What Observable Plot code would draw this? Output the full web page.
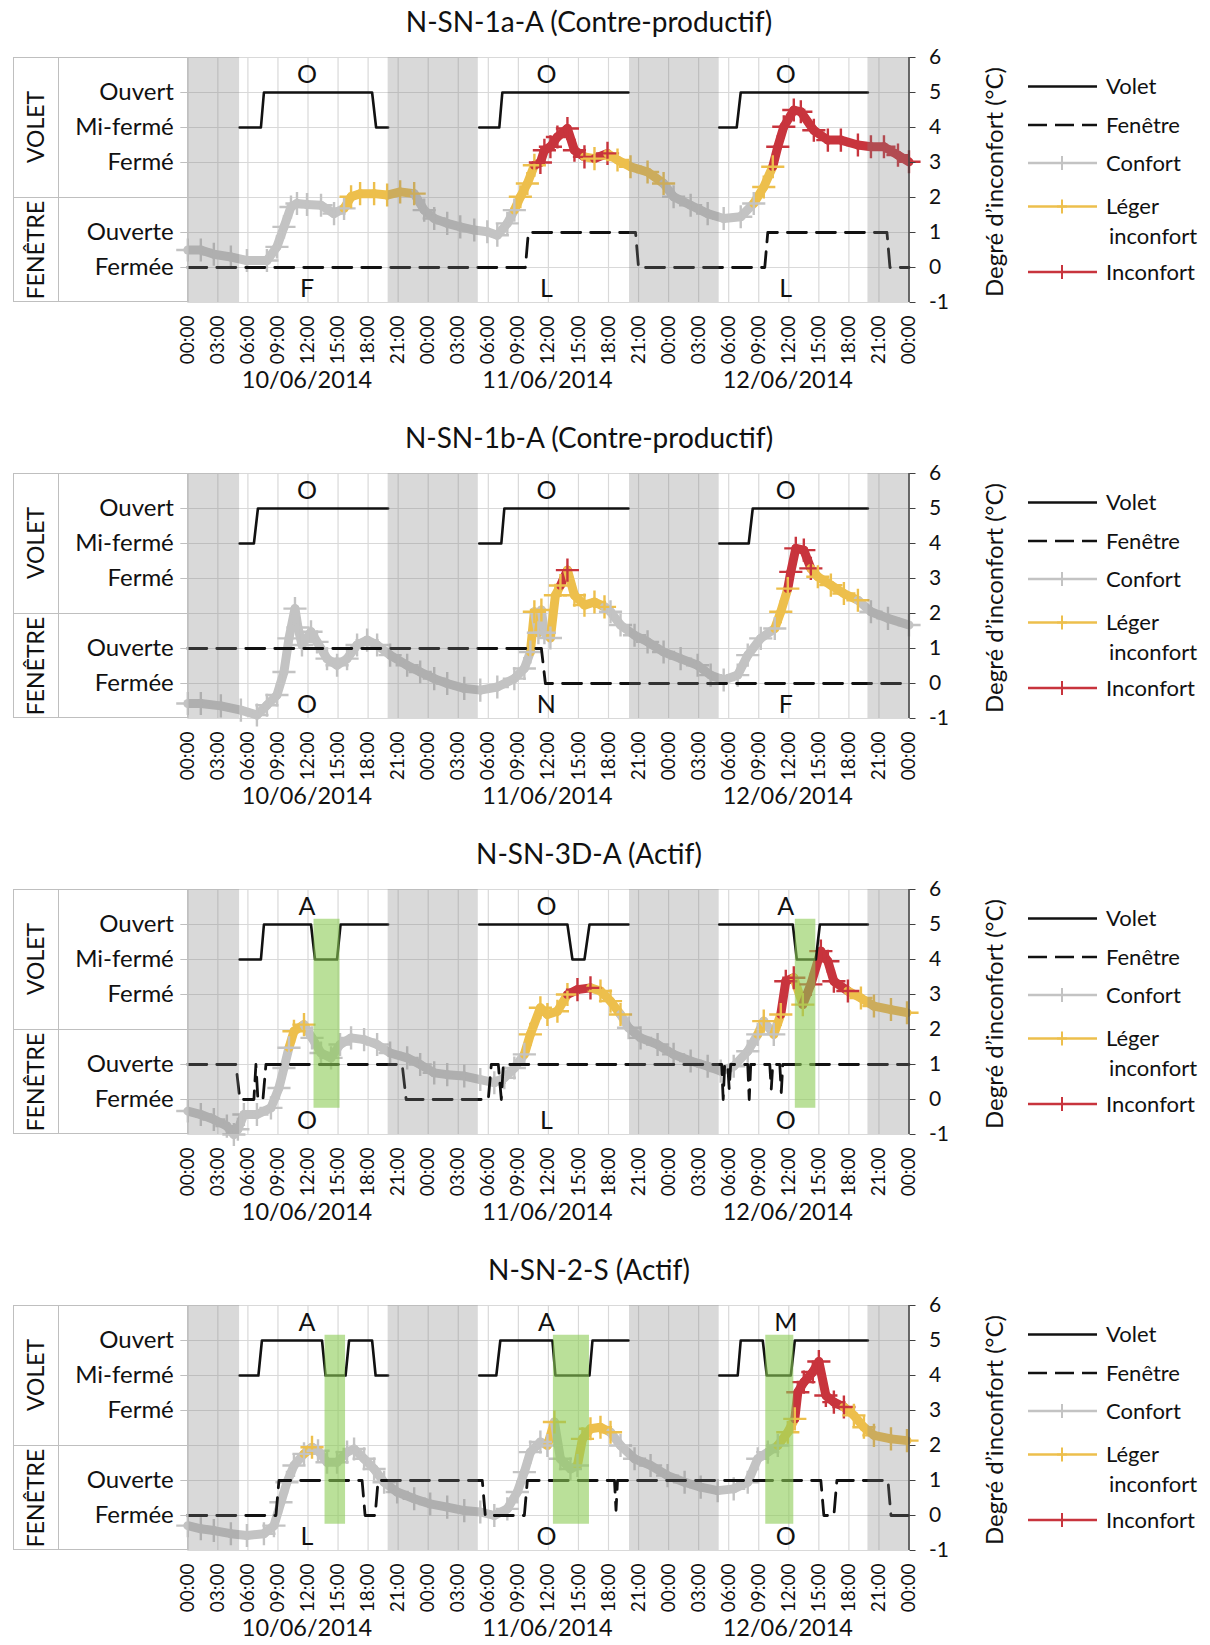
<!DOCTYPE html>
<html>
<head>
<meta charset="utf-8">
<script src="https://cdn.jsdelivr.net/npm/d3@7"></script>
<script src="https://cdn.jsdelivr.net/npm/@observablehq/plot@0.6"></script>
<style>
  body { margin:0; background:#fff; font-family: Lato, "Open Sans", sans-serif; color:#111; }
  .panel { position:relative; width:1210px; height:416px; overflow:visible; }
  .panel svg.plot { position:absolute; left:0; top:0; }
  .title { position:absolute; left:0; width:1178px; top:3px; height:36px; line-height:36px; text-align:center; font-size:28px; }
  .lbox { position:absolute; left:13px; top:57px; width:174px; height:245px; box-sizing:border-box; border:1.5px solid #bfbfbf; border-right:none; }
  .vdiv { position:absolute; left:58px; top:57px; width:0; height:245px; border-left:1.5px solid #bfbfbf; }
  .hdiv { position:absolute; left:13px; top:197px; width:174px; height:0; border-top:1.5px solid #bfbfbf; }
  .rot { position:absolute; transform:translate(-50%,-50%) rotate(-90deg); white-space:nowrap; }
  .legend { position:absolute; left:1020px; top:0; }
</style>
</head>
<body>
<div id="root"></div>
<script>
// ---------- shared axis / category data ----------
const tickHours = [0,3,6,9,12,15,18,21,24,27,30,33,36,39,42,45,48,51,54,57,60,63,66,69,72];
const tickLabels = ["00:00","03:00","06:00","09:00","12:00","15:00","18:00","21:00",
                    "00:00","03:00","06:00","09:00","12:00","15:00","18:00","21:00",
                    "00:00","03:00","06:00","09:00","12:00","15:00","18:00","21:00","00:00"];
const dateLabels = ["10/06/2014","11/06/2014","12/06/2014"];
const dateHours = [11.9, 35.9, 59.9];
const yTicks = [-1,0,1,2,3,4,5,6];
const yTickLabels = ["-1","0","1","2","3","4","5","6"];
const stateTicks = [5,4,3,1,0];
const stateLabels = ["Ouvert","Mi-fermé","Fermé","Ouverte","Fermée"];
const groupLabels = ["VOLET","FENÊTRE"];
const yTitle = "Degré d’inconfort (°C)";
const levelNames = ["Confort","Léger inconfort","Inconfort"];
const levelColors = ["#c3c3c3","#edbf4c","#c8343d"];
const legendNames = ["Volet","Fenêtre","Confort","Léger","inconfort","Inconfort"];
const nightStart = [0, 20, 44.1, 67.9];
const nightEnd   = [5.17, 29, 53.05, 72];
const greenBottom = -0.25, greenTop = 5.15;
const letterHours = [11.9, 35.8, 59.7];
const letterTopY = 5.5, letterBottomY = -0.6;

// ---------- panel 1 : N-SN-1a-A ----------
const p1Title = "N-SN-1a-A (Contre-productif)";
const p1Hours  = [0,1.3,2.6,4.3,5.9,7.9,8.9,9.6,10.3,10.9,11.9,13.3,14.6,15.6,16.3,17.2,18.6,19.9,21.2,22.6,23.6,24.6,25.9,27.2,28.6,29.9,30.9,31.9,32.6,33.2,33.9,34.6,35.2,35.6,36.2,36.9,37.9,38.6,39.6,40.6,41.9,42.9,44.2,45.9,47.5,48.5,50.2,51.9,53.5,55.2,56.5,57.5,58.4,58.9,59.5,60.5,61.2,62.5,63.9,65.2,66.9,68.2,69.5,70.9,72];
const p1Values = [0.5,0.5,0.38,0.3,0.2,0.2,0.59,1.16,1.73,1.83,1.8,1.78,1.54,1.69,2.02,2.11,2.11,2.07,2.16,2.11,1.64,1.4,1.26,1.16,1.07,1.02,0.92,1.26,1.64,2.02,2.4,2.92,3.0,3.35,3.45,3.73,3.97,3.35,3.16,3.11,3.26,3.07,2.88,2.73,2.4,2.02,1.78,1.54,1.4,1.45,1.83,2.3,2.88,3.45,4.02,4.5,4.45,3.92,3.64,3.64,3.5,3.45,3.45,3.21,3.02];
const p1Levels = [0,0,0,0,0,0,0,0,0,0,0,0,0,0,1,1,1,1,1,1,0,0,0,0,0,0,0,0,0,1,1,1,2,2,2,2,2,2,2,1,2,1,1,1,1,0,0,0,0,0,0,1,1,2,2,2,2,2,2,2,2,2,2,2,2];
const p1VoletT = [5.17,7.3,7.6,18.4,18.8,20, 20, 29.1,31.1,31.4,44, 44, 53.05,54.8,55.2,67.9];
const p1VoletV = [4,4,5,5,4,4, null, 4,4,5,5, null, 4,4,5,5];
const p1WinT = [0,33.7,34.0,44.7,45.0,57.6,57.9,69.8,70.1,72];
const p1WinV = [0,0,1,1,0,0,1,1,0,0];
const p1GreenStart = [];
const p1GreenEnd = [];
const p1Top = ["O","O","O"];
const p1Bottom = ["F","L","L"];

// ---------- panel 2 : N-SN-1b-A ----------
const p2Title = "N-SN-1b-A (Contre-productif)";
const p2Hours  = [0,1.3,3.3,5.3,6.9,7.9,8.9,9.6,10.1,10.7,11.0,11.4,12.3,12.9,13.9,14.9,15.9,16.9,17.9,18.9,20.2,21.9,23.2,24.6,25.9,27.6,29.2,30.9,32.6,33.6,34.2,34.6,35.0,35.3,35.6,36.2,36.7,37.2,37.9,38.6,39.6,40.6,41.6,42.2,43.2,44.6,45.9,47.5,49.2,50.9,52.2,53.5,54.9,55.9,57.2,58.6,59.2,59.9,60.2,60.7,61.5,62.2,62.9,64.2,65.5,66.9,68.2,69.9,72];
const p2Values = [-0.57,-0.57,-0.64,-0.76,-0.9,-0.62,-0.33,0.33,1.29,2.14,1.6,1.1,1.48,1.19,0.71,0.52,0.71,1.1,1.24,1.1,0.81,0.52,0.33,0.14,0.0,-0.14,-0.19,-0.1,0.14,0.43,0.9,2.05,1.45,2.1,1.45,1.3,2.52,2.8,3.24,2.52,2.24,2.33,2.19,2.05,1.67,1.38,1.19,0.9,0.71,0.52,0.24,0.1,0.24,0.81,1.29,1.57,2.05,2.71,3.19,3.86,3.81,3.29,3.05,2.81,2.57,2.38,2.05,1.86,1.67];
const p2Levels = [0,0,0,0,0,0,0,0,0,0,0,0,0,0,0,0,0,0,0,0,0,0,0,0,0,0,0,0,0,0,0,1,0,1,0,0,1,1,2,1,1,1,1,0,0,0,0,0,0,0,0,0,0,0,0,0,1,1,2,2,2,2,1,1,1,1,0,0,0];
const p2VoletT = [5.17,6.6,7.0,20, 20, 29.1,31.3,31.6,44, 44, 53.05,56.0,56.4,67.9];
const p2VoletV = [4,4,5,5, null, 4,4,5,5, null, 4,4,5,5];
const p2WinT = [0,35.3,35.7,72];
const p2WinV = [1,1,0,0];
const p2GreenStart = [];
const p2GreenEnd = [];
const p2Top = ["O","O","O"];
const p2Bottom = ["O","N","F"];

// ---------- panel 3 : N-SN-3D-A ----------
const p3Title = "N-SN-3D-A (Actif)";
const p3Hours  = [0,1.3,2.6,3.9,4.6,5.0,5.6,6.9,8.3,9.1,9.6,10.1,10.6,11.6,12.4,13.3,14.3,15.2,16.3,17.6,18.9,20.2,21.9,23.2,24.6,25.9,27.6,29.2,30.6,31.6,32.6,33.6,34.2,35.2,35.9,36.9,37.9,38.9,40.2,41.2,42.2,43.2,44.0,45.2,46.9,48.5,50.2,51.9,53.2,54.5,55.9,56.9,57.5,58.5,59.2,59.7,60.5,61.4,62.2,63.2,63.9,64.5,65.9,67.2,68.5,70.2,71.8];
const p3Values = [-0.33,-0.43,-0.57,-0.76,-1.0,-0.85,-0.43,-0.43,-0.24,0.33,0.9,1.48,1.95,2.14,1.76,1.33,1.19,1.57,1.76,1.71,1.57,1.33,1.19,1.0,0.76,0.71,0.67,0.57,0.48,0.62,0.9,1.29,1.86,2.62,2.43,2.52,3.0,3.14,3.19,3.1,2.81,2.43,2.05,1.76,1.57,1.29,1.1,0.95,0.81,0.95,1.38,1.86,2.24,1.86,2.43,3.38,3.48,2.71,3.29,4.24,3.95,3.38,3.1,2.9,2.67,2.57,2.48];
const p3Levels = [0,0,0,0,0,0,0,0,0,0,0,0,1,1,0,0,0,0,0,0,0,0,0,0,0,0,0,0,0,0,0,0,1,1,1,1,1,2,2,1,1,1,0,0,0,0,0,0,0,0,0,0,1,0,1,2,2,1,2,2,2,2,2,1,1,1,1];
const p3VoletT = [5.17,7.3,7.6,12.3,12.7,14.9,15.25,20, 20, 29.1,37.9,38.4,39.6,40.1,44, 44, 53.05,60.4,60.8,62.7,63.1,67.9];
const p3VoletV = [4,4,5,5,4,4,5,5, null, 5,5,4,4,5,5, null, 5,5,4,4,5,5];
const p3WinT = [0,4.8,5.2,6.6,6.8,7.0,7.5,7.8,21.4,21.8,30.0,30.3,31.0,31.3,31.5,53.3,53.45,53.6,53.9,54.05,54.2,55.9,56.05,56.2,58.1,58.25,58.4,59.1,59.25,59.4,72];
const p3WinV = [1,1,0,0,1,0,0,1,1,0,0,1,1,0,1,1,0,1,1,0.3,1,1,0,1,1,0.3,1,1,0.2,1,1];
const p3GreenStart = [12.6, 60.65];
const p3GreenEnd = [15.2, 62.7];
const p3Top = ["A","O","A"];
const p3Bottom = ["O","L","O"];

// ---------- panel 4 : N-SN-2-S ----------
const p4Title = "N-SN-2-S (Actif)";
const p4Hours  = [0,1.3,2.6,4.3,5.9,7.6,8.6,9.3,9.9,10.6,11.6,12.4,13.0,13.9,14.9,15.9,16.6,17.6,18.6,19.6,20.9,22.6,24.2,25.9,27.6,29.2,30.6,31.9,32.9,33.6,34.2,35.2,35.9,36.6,37.2,38.2,38.9,39.4,40.2,41.2,42.2,43.2,44.6,46.2,47.9,49.6,51.2,52.9,54.5,55.9,56.9,57.9,58.9,59.9,60.6,60.9,61.5,62.4,63.0,63.7,64.5,65.5,66.5,67.5,68.5,70.2,71.8];
const p4Values = [-0.29,-0.38,-0.43,-0.52,-0.57,-0.52,-0.29,0.38,0.95,1.43,1.76,1.95,1.85,1.52,1.52,1.81,1.9,1.62,1.33,0.95,0.67,0.48,0.33,0.24,0.14,0.1,0.0,0.19,0.67,1.24,1.81,2.1,2.0,2.67,1.62,1.33,1.43,2.19,2.48,2.52,2.38,2.0,1.62,1.43,1.14,0.95,0.81,0.71,0.76,0.95,1.62,1.81,2.0,2.38,2.76,3.52,3.81,4.1,4.4,3.43,3.24,3.1,2.86,2.52,2.29,2.19,2.14];
const p4Levels = [0,0,0,0,0,0,0,0,0,0,0,1,0,0,0,0,0,0,0,0,0,0,0,0,0,0,0,0,0,0,0,0,0,1,0,0,0,1,1,1,1,0,0,0,0,0,0,0,0,0,0,0,0,1,1,2,2,2,2,2,2,2,1,1,1,1,1];
const p4VoletT = [5.17,7.05,7.4,13.4,13.75,15.75,16.1,18.4,18.75,20, 20, 29.1,30.8,31.2,36.4,36.7,40.1,40.4,44, 44, 53.05,54.9,55.2,57.4,57.8,60.2,60.6,67.9];
const p4VoletV = [4,4,5,5,4,4,5,5,4,4, null, 4,4,5,5,4,4,5,5, null, 4,4,5,5,4,4,5,5];
const p4WinT = [0,8.8,9.1,17.4,17.7,18.7,19.0,29.4,29.7,33.6,33.9,42.6,42.75,42.9,63.2,63.5,64.5,64.8,69.9,70.2,72];
const p4WinV = [0,0,1,1,0,0,1,1,0,0,1,1,0.15,1,1,0,0,1,1,0,0];
const p4GreenStart = [13.7, 36.5, 57.7];
const p4GreenEnd = [15.75, 40.1, 60.5];
const p4Top = ["A","A","M"];
const p4Bottom = ["L","O","O"];

const panels = [
  {title:p1Title, hours:p1Hours, values:p1Values, levels:p1Levels, voletT:p1VoletT, voletV:p1VoletV, winT:p1WinT, winV:p1WinV, gs:p1GreenStart, ge:p1GreenEnd, top:p1Top, bottom:p1Bottom},
  {title:p2Title, hours:p2Hours, values:p2Values, levels:p2Levels, voletT:p2VoletT, voletV:p2VoletV, winT:p2WinT, winV:p2WinV, gs:p2GreenStart, ge:p2GreenEnd, top:p2Top, bottom:p2Bottom},
  {title:p3Title, hours:p3Hours, values:p3Values, levels:p3Levels, voletT:p3VoletT, voletV:p3VoletV, winT:p3WinT, winV:p3WinV, gs:p3GreenStart, ge:p3GreenEnd, top:p3Top, bottom:p3Bottom},
  {title:p4Title, hours:p4Hours, values:p4Values, levels:p4Levels, voletT:p4VoletT, voletV:p4VoletV, winT:p4WinT, winV:p4WinV, gs:p4GreenStart, ge:p4GreenEnd, top:p4Top, bottom:p4Bottom}
];

const root = document.getElementById("root");
const nights = nightStart.map((a,i)=>({a, b:nightEnd[i]}));

function legendSvg() {
  const svg = d3.create("svg").attr("width",190).attr("height",300).attr("class","legend")
    .style("font-family","Lato").style("font-size","22px");
  const items = [
    {y:86.5, color:"#111", dash:null, plus:false, label:legendNames[0]},
    {y:125, color:"#111", dash:"19,8", plus:false, label:legendNames[1]},
    {y:163, color:levelColors[0], dash:null, plus:true, label:legendNames[2]},
    {y:206.5, color:levelColors[1], dash:null, plus:true, label:legendNames[3]},
    {y:272, color:levelColors[2], dash:null, plus:true, label:legendNames[5]}
  ];
  for (const it of items) {
    svg.append("line").attr("x1",8).attr("x2",77).attr("y1",it.y).attr("y2",it.y)
      .attr("stroke",it.color).attr("stroke-width",2.6).attr("stroke-dasharray",it.dash);
    if (it.plus) svg.append("path").attr("d",`M42,${it.y-7}V${it.y+7}M37,${it.y}H47`)
      .attr("stroke",it.color).attr("stroke-width",2);
    svg.append("text").attr("x",86).attr("y",it.y).attr("dy","0.35em").attr("fill","#111").text(it.label);
  }
  svg.append("text").attr("x",89).attr("y",236.5).attr("dy","0.35em").attr("fill","#111").text(legendNames[4]);
  return svg.node();
}

for (const p of panels) {
  const comfort = p.hours.map((h,i)=>({h, v:p.values[i], c:levelColors[p.levels[i]]}));
  const segs = comfort.slice(1).map((d,i)=>({x1:comfort[i].h, y1:comfort[i].v, x2:d.h, y2:d.v, c:d.c}));
  const volet = p.voletT.map((t,i)=>({t, v:p.voletV[i]}));
  const win = p.winT.map((t,i)=>({t, v:p.winV[i]}));
  const greens = p.gs.map((a,i)=>({a, b:p.ge[i]}));
  const topL = letterHours.map((h,i)=>({h, s:p.top[i]}));
  const botL = letterHours.map((h,i)=>({h, s:p.bottom[i]}));
  const dates = dateHours.map((h,i)=>({h, s:dateLabels[i]}));

  const chart = Plot.plot({
    width:1210, height:416,
    marginLeft:187.3, marginRight:301.5, marginTop:57, marginBottom:114,
    x:{domain:[0,72], label:null},
    y:{domain:[-1,6], label:null},
    color:{type:"identity"},
    style:{fontFamily:"Lato", fontSize:"22px", color:"#111", background:"transparent", overflow:"visible"},
    marks:[
      Plot.gridX({ticks:tickHours, stroke:"#d9d9d9", strokeOpacity:1, strokeWidth:1.2}),
      Plot.gridY({ticks:yTicks, stroke:"#d9d9d9", strokeOpacity:1, strokeWidth:1.2}),
      Plot.link(segs, {x1:"x1", y1:"y1", x2:"x2", y2:"y2", stroke:"c", strokeWidth:9, strokeLinecap:"round"}),
      Plot.dot(comfort, {x:"h", y:"v", symbol:"plus", r:7.5, stroke:"c", strokeWidth:2.4}),
      Plot.line(volet, {x:"t", y:"v", stroke:"#111", strokeWidth:2.6}),
      Plot.line(win, {x:"t", y:"v", stroke:"#111", strokeWidth:2.8, strokeDasharray:"19,10"}),
      Plot.rect(nights, {x1:"a", x2:"b", fill:"#808080", fillOpacity:0.3}),
      Plot.rect(greens, {x1:"a", x2:"b", y1:greenBottom, y2:greenTop, fill:"#8ccc55", fillOpacity:0.6}),
      Plot.text(topL, {x:"h", y:letterTopY, text:"s", fontSize:25, fill:"#111"}),
      Plot.text(botL, {x:"h", y:letterBottomY, text:"s", fontSize:25, fill:"#111"}),
      Plot.ruleX([0], {stroke:"#bfbfbf", strokeWidth:1.5}),
      Plot.ruleX([72], {stroke:"#404040", strokeWidth:1.5}),
      Plot.axisY({anchor:"right", ticks:yTicks, tickFormat:d=>yTickLabels[yTicks.indexOf(d)], tickSize:6, tickPadding:14, stroke:"#404040", fontSize:21}),
      Plot.axisY({anchor:"left", ticks:stateTicks, tickFormat:d=>stateLabels[stateTicks.indexOf(d)], tickSize:7, tickPadding:7, stroke:"#bfbfbf", fontSize:24}),
      Plot.axisX({ticks:tickHours, tickFormat:(d)=>tickLabels[tickHours.indexOf(d)], tickRotate:-90, tickSize:0, tickPadding:13, fontSize:19}),
      Plot.text(dates, {x:"h", text:"s", frameAnchor:"bottom", dy:85, fontSize:23.5, fill:"#111"})
    ]
  });
  chart.classList.add("plot");

  const panel = document.createElement("div");
  panel.className = "panel";
  panel.appendChild(chart);
  const add = (cls, html, style) => { const d = document.createElement("div"); d.className = cls; if (html) d.textContent = html; if (style) d.setAttribute("style", style); panel.appendChild(d); };
  add("title", p.title);
  add("lbox");
  add("vdiv");
  add("hdiv");
  add("rot", groupLabels[0], "left:35px;top:127px;font-size:23px;");
  add("rot", groupLabels[1], "left:35px;top:249.5px;font-size:23px;");
  add("rot", yTitle, "left:993px;top:182px;font-size:24px;");
  panel.appendChild(legendSvg());
  root.appendChild(panel);
}
</script>
</body>
</html>
